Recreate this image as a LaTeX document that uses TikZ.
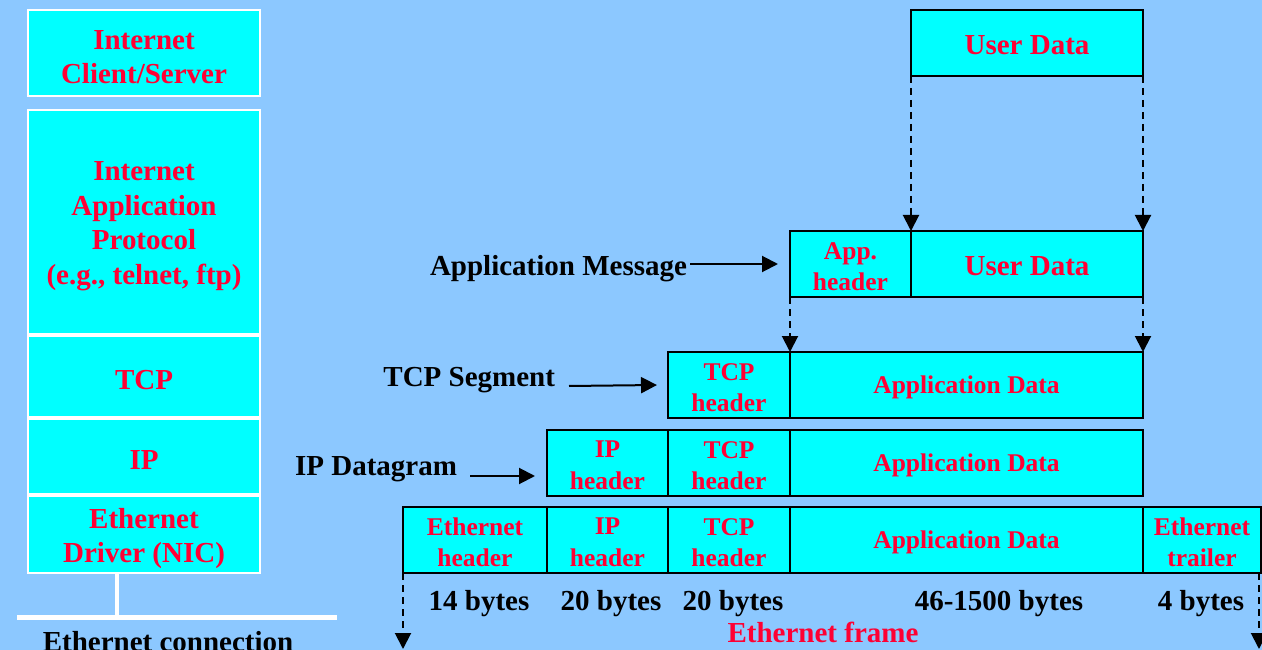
\documentclass[tikz,border=0pt]{standalone}
\usepackage{fontspec}
\setmainfont{Liberation Serif}
\usetikzlibrary{arrows.meta}
\definecolor{bgc}{HTML}{8CC8FF}
\definecolor{cyanc}{HTML}{00FFFF}
\definecolor{redc}{HTML}{FF0033}
\tikzset{
  bigfont/.style={font=\fontsize{29}{34.5}\selectfont\bfseries},
  smallfont/.style={font=\fontsize{25.5}{31.5}\selectfont\bfseries},
  celltext/.style={inner sep=0pt, outer sep=0pt, align=center, text=redc},
  ct/.style={label={[celltext, smallfont, yshift=-2.5pt]center:#1}},
  cbt/.style={label={[celltext, bigfont, yshift=-2.5pt]center:#1}},
  st/.style={label={[celltext, bigfont, yshift=-4pt]center:#1}},
  cell/.style={draw=black, line width=1.8pt, fill=cyanc, inner sep=0pt, outer sep=0pt,
    anchor=north west},
  stack/.style={draw=white, line width=2.2pt, fill=cyanc, inner sep=0pt, outer sep=0pt,
    anchor=north west, minimum width=232pt},
  lbl/.style={inner sep=0pt, outer sep=0pt, text=black, bigfont},
  arr/.style={line width=2pt, -{Triangle[width=16pt,length=16pt]}},
  dasharr/.style={line width=2pt, dash pattern=on 7pt off 5pt, -{Triangle[width=16pt,length=16pt]}}
}
\begin{document}
\begin{tikzpicture}[x=1pt,y=-1pt]
\useasboundingbox (0,0) rectangle (1262,650);
\fill[bgc] (0,0) rectangle (1262,650);
\clip (0,0) rectangle (1262,650);
% left stack
\node[stack, minimum height=86pt, st={Internet\\Client/Server}] (l1) at (28,10) {};
\node[stack, minimum height=224pt, st={Internet\\Application\\Protocol\\(e.g., telnet, ftp)}] (l2) at (28,110) {};
\node[stack, minimum height=81pt, st={TCP}] (l3) at (28,336) {};
\node[stack, minimum height=75pt, st={IP}] (l4) at (28,419) {};
\node[stack, minimum height=77pt, st={Ethernet\\Driver (NIC)}] (l5) at (28,496) {};
\coordinate (bus) at (117,617);
\coordinate (busl) at (17,617);
\coordinate (busr) at (337,617);
\draw[white, line width=4pt] (l5.south -| bus) -- (bus);
\draw[white, line width=5pt] (busl) -- (busr);
\node[lbl, anchor=base] (conn) at (168,651) {Ethernet connection};
% top row
\node[cell, minimum width=232pt, minimum height=66pt, cbt={User Data}] (ud0) at (911,10) {};
% application message
\node[cell, minimum width=121pt, minimum height=66pt, ct={App.\\header}] (apph) at (790,231) {};
\node[cell, minimum width=232pt, minimum height=66pt, cbt={User Data}] (ud1) at (911,231) {};
% TCP segment
\node[cell, minimum width=122pt, minimum height=66pt, ct={TCP\\header}] (tcph1) at (668,352) {};
\node[cell, minimum width=353pt, minimum height=66pt, ct={Application Data}] (ad1) at (790,352) {};
% IP datagram
\node[cell, minimum width=121pt, minimum height=66pt, ct={IP\\header}] (iph2) at (547,430) {};
\node[cell, minimum width=122pt, minimum height=66pt, ct={TCP\\header}] (tcph2) at (668,430) {};
\node[cell, minimum width=353pt, minimum height=66pt, ct={Application Data}] (ad2) at (790,430) {};
% Ethernet frame
\node[cell, minimum width=144pt, minimum height=66pt, ct={Ethernet\\header}] (eth3) at (403,507) {};
\node[cell, minimum width=121pt, minimum height=66pt, ct={IP\\header}] (iph3) at (547,507) {};
\node[cell, minimum width=122pt, minimum height=66pt, ct={TCP\\header}] (tcph3) at (668,507) {};
\node[cell, minimum width=353pt, minimum height=66pt, ct={Application Data}] (ad3) at (790,507) {};
\node[cell, minimum width=118pt, minimum height=66pt, ct={Ethernet\\trailer}] (etr3) at (1143,507) {};
% labels
\node[lbl, anchor=base east] (appmsg) at (687,275) {Application Message};
\node[lbl, anchor=base east] (tcpseg) at (555,386) {TCP Segment};
\node[lbl, anchor=base east] (ipdg) at (457,475) {IP Datagram};
\draw[arr, shorten <=3pt, shorten >=12pt] (appmsg.east |- apph.west) -- (apph.west);
\draw[arr] ([xshift=14pt]tcpseg.base east) -- ([xshift=-11pt]tcph1.west);
\draw[arr] ([xshift=13pt,yshift=-1pt]ipdg.base east) -- ([xshift=-12pt,yshift=-13pt]iph2.west);
% dashed arrows
\draw[dasharr] (ud0.south west) -- (ud1.north west);
\draw[dasharr] (ud0.south east) -- (ud1.north east);
\draw[dasharr] (apph.south west) -- (ad1.north west);
\draw[dasharr] (ud1.south east) -- (ad1.north east);
\coordinate (fl) at (403,649);
\coordinate (fr) at (1259,649);
\draw[dasharr] (eth3.south west) -- (fl);
\draw[dasharr] (etr3.south east -| fr) -- (fr);
% byte counts
\node[lbl, anchor=base] (b1) at (479,610) {14 bytes};
\node[lbl, anchor=base] (b2) at (611,610) {20 bytes};
\node[lbl, anchor=base] (b3) at (733,610) {20 bytes};
\node[lbl, anchor=base] (b4) at (999,610) {46-1500 bytes};
\node[lbl, anchor=base] (b5) at (1201,610) {4 bytes};
\node[lbl, anchor=base, text=redc] (frame) at (823,642) {Ethernet frame};
\end{tikzpicture}
\end{document}
